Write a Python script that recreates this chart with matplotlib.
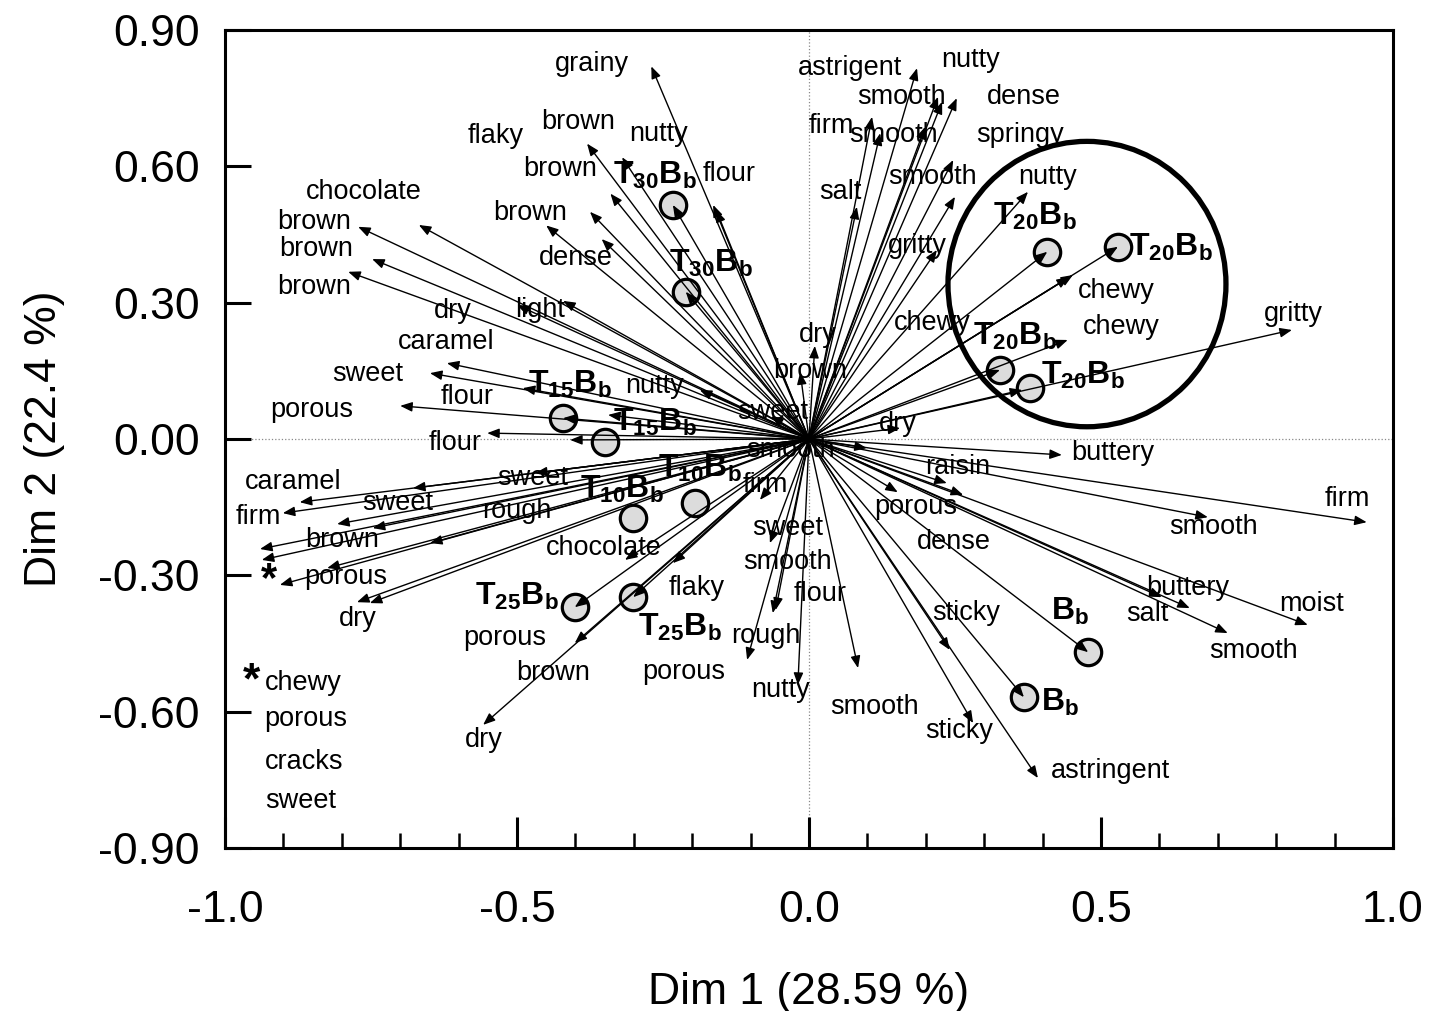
import matplotlib
matplotlib.use('Agg')
import matplotlib.pyplot as plt
from matplotlib.patches import Ellipse
from matplotlib.ticker import MultipleLocator, FormatStrFormatter

plt.rcParams['font.family'] = ['Liberation Sans', 'DejaVu Sans']
plt.rcParams['mathtext.fontset'] = 'custom'
plt.rcParams['mathtext.rm'] = 'Liberation Sans'
plt.rcParams['mathtext.bf'] = 'Liberation Sans:bold'

# attribute loading vectors (arrow tips, data units)
arrow_x = [-0.27, -0.38, -0.32, -0.34, -0.375, -0.45, -0.355, -0.233, -0.164, -0.159,
           -0.211, -0.668, -0.772, -0.748, -0.789, -0.50, -0.421, -0.620, -0.649, -0.700,
           -0.551, -0.490, -0.421, -0.344, -0.409, -0.187, 0.01, -0.015, -0.065,
           -0.872, -0.678, -0.901, -0.808, -0.747, -0.940, -0.937, -0.649, -0.906, -0.825,
           -0.774, -0.752, -0.558, -0.401, -0.301, -0.315, -0.233, -0.401, -0.469,
           -0.084, -0.067, -0.062, -0.057, -0.106, -0.019, 0.084,
           0.433, 0.099, 0.236, 0.264, 0.152, 0.241, 0.281, 0.392, 0.478, 0.368,
           0.955, 0.683, 0.604, 0.652, 0.854, 0.717,
           0.185, 0.221, 0.253, 0.228, 0.108, 0.122, 0.199, 0.247, 0.082, 0.250,
           0.219, 0.375, 0.408, 0.529, 0.452, 0.445, 0.443, 0.327, 0.365, 0.827, 0.156]
arrow_y = [0.82, 0.65, 0.62, 0.54, 0.50, 0.47, 0.44, 0.515, 0.515, 0.504,
           0.324, 0.471, 0.467, 0.396, 0.368, 0.295, 0.304, 0.167, 0.145, 0.073,
           0.013, 0.112, 0.046, 0.053, -0.002, 0.108, 0.205, 0.147, 0.05,
           -0.139, -0.108, -0.163, -0.187, -0.196, -0.242, -0.266, -0.229, -0.321, -0.284,
           -0.359, -0.361, -0.629, -0.370, -0.348, -0.266, -0.273, -0.449, -0.075,
           -0.134, -0.229, -0.383, -0.376, -0.486, -0.541, -0.504,
           -0.035, -0.020, -0.097, -0.123, -0.117, -0.464, -0.625, -0.746, -0.469, -0.568,
           -0.183, -0.172, -0.348, -0.372, -0.409, -0.427,
           0.816, 0.753, 0.750, 0.742, 0.709, 0.673, 0.687, 0.614, 0.511, 0.533,
           0.416, 0.544, 0.412, 0.423, 0.361, 0.356, 0.218, 0.152, 0.108, 0.240, 0.024]

# attribute names and where they are written
attr_names = ['grainy', 'flaky', 'brown', 'nutty', 'brown', 'flour', 'chocolate', 'brown',
              'brown', 'brown', 'dense', 'brown', 'dry', 'light', 'caramel', 'sweet', 'flour',
              'nutty', 'porous', 'flour', 'dry', 'brown', 'sweet', 'smooth',
              'astrigent', 'nutty', 'smooth', 'dense', 'firm', 'smooth', 'springy', 'salt',
              'smooth', 'nutty', 'gritty', 'chewy', 'chewy', 'chewy', 'gritty', 'dry',
              'caramel', 'sweet', 'sweet', 'firm', 'rough', 'brown', 'chocolate', 'porous',
              'dry', 'flaky', 'porous', 'brown', 'porous', 'dry',
              'firm', 'sweet', 'smooth', 'flour', 'rough', 'nutty', 'smooth',
              'buttery', 'raisin', 'porous', 'dense', 'sticky', 'sticky', 'astringent',
              'firm', 'smooth', 'buttery', 'salt', 'moist', 'smooth']
attr_lx = [-0.372, -0.536, -0.396, -0.257, -0.426, -0.137, -0.762, -0.478,
           -0.848, -0.844, -0.399, -0.848, -0.610, -0.461, -0.621, -0.755, -0.586,
           -0.264, -0.851, -0.606, 0.015, 0.002, -0.063, -0.032,
           0.070, 0.276, 0.159, 0.368, 0.039, 0.144, 0.361, 0.053,
           0.212, 0.408, 0.185, 0.526, 0.211, 0.534, 0.829, 0.152,
           -0.884, -0.473, -0.705, -0.943, -0.500, -0.800, -0.351, -0.793,
           -0.772, -0.192, -0.521, -0.438, -0.214, -0.556,
           -0.074, -0.036, -0.036, 0.019, -0.074, -0.048, 0.113,
           0.520, 0.255, 0.183, 0.248, 0.269, 0.257, 0.517,
           0.921, 0.692, 0.649, 0.580, 0.860, 0.762]
attr_ly = [0.826, 0.667, 0.698, 0.672, 0.594, 0.583, 0.544, 0.498,
           0.478, 0.418, 0.398, 0.335, 0.282, 0.284, 0.213, 0.143, 0.093,
           0.117, 0.064, -0.009, 0.229, 0.149, 0.060, -0.024,
           0.817, 0.835, 0.753, 0.753, 0.689, 0.669, 0.669, 0.544,
           0.577, 0.577, 0.425, 0.326, 0.256, 0.247, 0.275, 0.033,
           -0.095, -0.086, -0.141, -0.172, -0.158, -0.222, -0.240, -0.304,
           -0.396, -0.328, -0.438, -0.515, -0.513, -0.662,
           -0.101, -0.196, -0.271, -0.341, -0.433, -0.552, -0.590,
           -0.031, -0.062, -0.149, -0.227, -0.383, -0.643, -0.731,
           -0.132, -0.194, -0.328, -0.385, -0.363, -0.466]

# samples (observations)
sample_tex = ['T_{30}B_b', 'T_{30}B_b', 'T_{15}B_b', 'T_{15}B_b', 'T_{10}B_b', 'T_{10}B_b',
              'T_{25}B_b', 'T_{25}B_b', 'T_{20}B_b', 'T_{20}B_b', 'T_{20}B_b', 'T_{20}B_b',
              'B_b', 'B_b']
sample_x = [-0.233, -0.211, -0.421, -0.349, -0.301, -0.195, -0.401, -0.301,
            0.408, 0.529, 0.327, 0.378, 0.478, 0.368]
sample_y = [0.515, 0.324, 0.046, -0.007, -0.174, -0.141, -0.370, -0.348,
            0.412, 0.423, 0.152, 0.112, -0.469, -0.568]
sample_lx = [-0.264, -0.168, -0.409, -0.264, -0.320, -0.187, -0.500, -0.221,
             0.387, 0.619, 0.353, 0.469, 0.447, 0.430]
sample_ly = [0.579, 0.387, 0.119, 0.037, -0.112, -0.064, -0.346, -0.414,
             0.490, 0.422, 0.225, 0.141, -0.380, -0.579]

# footnote marked with *
note_lines = ['chewy', 'porous', 'cracks', 'sweet']
note_y = [-0.537, -0.617, -0.710, -0.796]

fig = plt.figure(figsize=(14.45, 10.11), dpi=100)
ax = fig.add_axes([0.1557, 0.1612, 0.8083, 0.8091])
ax.set_xlim(-1.0, 1.0)
ax.set_ylim(-0.9, 0.9)

ax.axhline(0, color='#888888', lw=0.9, ls=':', zorder=0)
ax.axvline(0, color='#888888', lw=0.9, ls=':', zorder=0)

# sample circles go under the arrows so the arrow heads show inside them
ax.plot(sample_x, sample_y, 'o', ms=19, mfc='#dcdcdc', mec='black', mew=2.3, zorder=1)

for tx, ty in zip(arrow_x, arrow_y):
    ax.annotate('', xy=(tx, ty), xytext=(0, 0),
                arrowprops=dict(arrowstyle='-|>,head_length=0.45,head_width=0.18',
                                mutation_scale=16, lw=1.0, color='black',
                                shrinkA=0, shrinkB=0), zorder=2)

for name, lx, ly in zip(attr_names, attr_lx, attr_ly):
    ax.text(lx, ly, name, fontsize=19.5, ha='center', va='center', zorder=4)

ax.text(-0.925, -0.31, '*', fontsize=30, fontweight='bold', ha='center', va='center', zorder=4)
ax.text(-0.955, -0.535, '*', fontsize=32, fontweight='bold', ha='center', va='center', zorder=4)
for line, ny in zip(note_lines, note_y):
    ax.text(-0.932, ny, line, fontsize=19.5, ha='left', va='center', zorder=4)

for tex, lx, ly in zip(sample_tex, sample_lx, sample_ly):
    ax.text(lx, ly, r'$\mathbf{' + tex + '}$', fontsize=23, ha='center', va='center', zorder=4)

ax.add_patch(Ellipse((0.476, 0.341), 0.476, 0.628, fill=False, lw=3.8,
                     edgecolor='black', zorder=5))

for s in ax.spines.values():
    s.set_linewidth(2.2)
ax.xaxis.set_major_locator(MultipleLocator(0.5))
ax.xaxis.set_minor_locator(MultipleLocator(0.1))
ax.yaxis.set_major_locator(MultipleLocator(0.3))
ax.xaxis.set_major_formatter(FormatStrFormatter('%.1f'))
ax.yaxis.set_major_formatter(FormatStrFormatter('%.2f'))
ax.tick_params(axis='x', which='major', direction='in', length=22, width=2.2,
               labelsize=32, pad=30, top=False)
ax.tick_params(axis='x', which='minor', direction='in', length=11, width=1.8, top=False)
ax.tick_params(axis='y', which='major', direction='in', length=19, width=2.2,
               labelsize=32, pad=18, right=False)

ax.set_xlabel('Dim 1 (28.59 %)', fontsize=32, labelpad=30)
ax.set_ylabel('Dim 2 (22.4 %)', fontsize=32, labelpad=24)

fig.savefig('out.png', dpi=100)
